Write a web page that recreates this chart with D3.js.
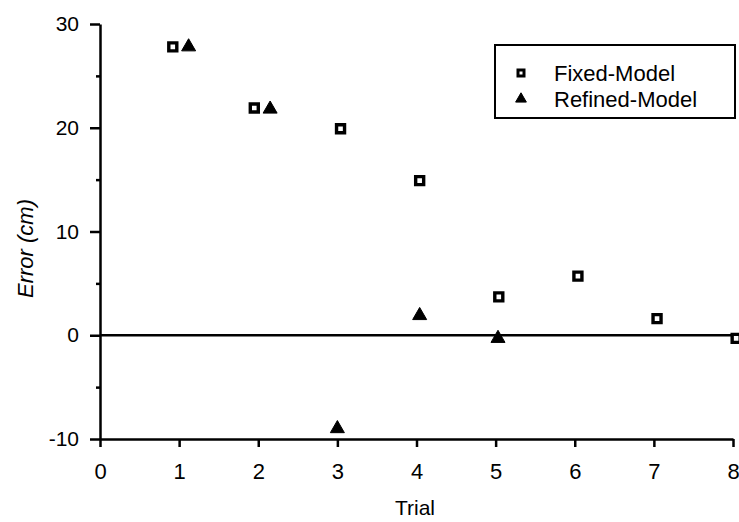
<!DOCTYPE html>
<html>
<head>
<meta charset="utf-8">
<script src="https://cdn.jsdelivr.net/npm/d3@7"></script>
<style>
  html, body { margin: 0; padding: 0; background: #fff; }
  svg { display: block; font-family: "Liberation Sans", Arial, Helvetica, sans-serif; }
</style>
</head>
<body>
<svg id="chart" width="739" height="522"></svg>
<script>
// ---- data ----
const fixedX = [0.92, 1.95, 3.04, 4.04, 5.04, 6.04, 7.04, 8.04];
const fixedY = [27.8, 21.9, 19.9, 14.9, 3.7, 5.7, 1.6, -0.3];
const refinedX = [1.12, 2.15, 3.0, 4.04, 5.03];
const refinedY = [27.8, 21.8, -9.0, 1.9, -0.3];
const xTicks = [0, 1, 2, 3, 4, 5, 6, 7, 8];
const yMajorTicks = [-10, 0, 10, 20, 30];
const yMinorTicks = [-5, 5, 15, 25];
const seriesNames = ["Fixed-Model", "Refined-Model"];
const xTitle = "Trial";
const yTitle = "Error (cm)";

const svg = d3.select("#chart");
const x = d3.scaleLinear().domain([0, 8]).range([100, 733]);
const y = d3.scaleLinear().domain([-10, 30]).range([439, 24]);
const fmt = d => String(d);

// y axis
const yAxis = svg.append("g").attr("transform", `translate(${x(0)},0)`)
  .call(d3.axisLeft(y).tickValues(yMajorTicks).tickSize(10).tickSizeOuter(0).tickPadding(11)
        .tickFormat(fmt));
yAxis.select(".domain").attr("stroke", "#000").attr("stroke-width", 2.5);
yAxis.selectAll(".tick line").attr("stroke", "#000").attr("stroke-width", 2.5);
yAxis.selectAll(".tick text").attr("font-size", 21).attr("fill", "#000")
  .attr("font-family", "'Liberation Sans', Arial, sans-serif");

const yMinor = svg.append("g").attr("transform", `translate(${x(0)},0)`)
  .call(d3.axisLeft(y).tickValues(yMinorTicks).tickSize(4).tickSizeOuter(0).tickFormat(""));
yMinor.select(".domain").remove();
yMinor.selectAll(".tick line").attr("stroke", "#000").attr("stroke-width", 2.5);

// x axis
const xAxis = svg.append("g").attr("transform", `translate(0,${y(-10)})`)
  .call(d3.axisBottom(x).tickValues(xTicks).tickSize(8).tickSizeOuter(0).tickPadding(16)
        .tickFormat(fmt));
xAxis.select(".domain").attr("stroke", "#000").attr("stroke-width", 2.5);
xAxis.selectAll(".tick line").attr("stroke", "#000").attr("stroke-width", 2.5);
xAxis.selectAll(".tick text").attr("font-size", 22).attr("fill", "#000")
  .attr("font-family", "'Liberation Sans', Arial, sans-serif");

// zero line
svg.append("line")
  .attr("x1", x(0)).attr("x2", x(8) + 2)
  .attr("y1", y(0)).attr("y2", y(0))
  .attr("stroke", "#000").attr("stroke-width", 2.5);

// axis titles
svg.append("text").text(xTitle)
  .attr("x", 415).attr("y", 515).attr("text-anchor", "middle")
  .attr("font-size", 21).attr("fill", "#000");
svg.append("text").text(yTitle)
  .attr("transform", `translate(33,${(197 + 300) / 2}) rotate(-90)`)
  .attr("text-anchor", "middle").attr("font-style", "italic")
  .attr("font-size", 22).attr("fill", "#000");

// markers
const sq = d3.symbol().type(d3.symbolSquare).size(64);
const sqLegend = d3.symbol().type(d3.symbolSquare).size(36);
const tri = d3.symbol().type(d3.symbolTriangle).size(85);
const triLegend = d3.symbol().type(d3.symbolTriangle).size(50);

svg.append("g").selectAll("path")
  .data(fixedX.map((v, i) => [v, fixedY[i]]))
  .join("path")
  .attr("d", sq)
  .attr("transform", d => `translate(${x(d[0])},${y(d[1])})`)
  .attr("fill", "#fff").attr("stroke", "#000").attr("stroke-width", 3.4);

svg.append("g").selectAll("path")
  .data(refinedX.map((v, i) => [v, refinedY[i]]))
  .join("path")
  .attr("d", tri)
  .attr("transform", d => `translate(${x(d[0])},${y(d[1])})`)
  .attr("fill", "#000").attr("stroke", "#000").attr("stroke-width", 1);

// legend
const lg = svg.append("g");
lg.append("rect").attr("x", 495).attr("y", 45).attr("width", 240).attr("height", 73)
  .attr("fill", "#fff").attr("stroke", "#000").attr("stroke-width", 2);
lg.append("path").attr("d", sqLegend).attr("transform", "translate(521,73)")
  .attr("fill", "#fff").attr("stroke", "#000").attr("stroke-width", 3);
lg.append("path").attr("d", triLegend).attr("transform", "translate(521,99)")
  .attr("fill", "#000").attr("stroke", "#000").attr("stroke-width", 1);
lg.selectAll("text.lbl").data(seriesNames).join("text").attr("class", "lbl")
  .text(d => d)
  .attr("x", 554).attr("y", (d, i) => 81 + i * 26)
  .attr("font-size", 22).attr("fill", "#000");
</script>
</body>
</html>
